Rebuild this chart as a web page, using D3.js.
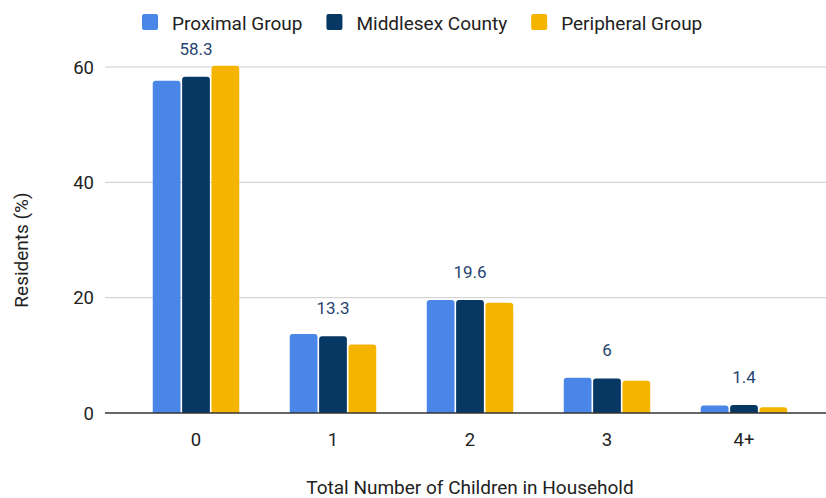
<!DOCTYPE html>
<html>
<head>
<meta charset="utf-8">
<script src="https://cdn.jsdelivr.net/npm/d3@7"></script>
<style>
  html, body { margin: 0; padding: 0; background: #fff; }
  svg { display: block; font-family: Roboto, "Noto Sans", sans-serif; }
</style>
</head>
<body>
<svg id="chart" width="826" height="498"></svg>
<script>
// Share of residents by number of children in the household
const categories = ["0", "1", "2", "3", "4+"];
const seriesNames = ["Proximal Group", "Middlesex County", "Peripheral Group"];
const proximal = [57.6, 13.7, 19.6, 6.1, 1.3];
const middlesex = [58.3, 13.3, 19.6, 6, 1.4];
const peripheral = [60.2, 11.9, 19.1, 5.6, 1.0];
const yTicks = [0, 20, 40, 60];
const colors = ["#4a86e8", "#073763", "#f4b400"];

const seriesValues = [proximal, middlesex, peripheral];
const rows = categories.map((c, i) => ({
  cat: c,
  vals: seriesValues.map((s, j) => ({ key: seriesNames[j], value: s[i], idx: j }))
}));

const svg = d3.select("#chart");
const plotLeft = 105, plotRight = 826, plotTop = 67, plotBottom = 413;

const x = d3.scaleBand().domain(categories).range([127.5, 812.5]).paddingInner(0).paddingOuter(0);
const x1 = d3.scaleBand().domain(seriesNames).range([0, x.bandwidth()]).paddingInner(0.055).paddingOuter(0.86);
const y = d3.scaleLinear().domain([0, 60]).range([plotBottom, plotTop]);

// gridlines
svg.append("g")
  .selectAll("line")
  .data(yTicks.filter(t => t !== 0))
  .join("line")
  .attr("x1", plotLeft).attr("x2", plotRight)
  .attr("y1", d => y(d)).attr("y2", d => y(d))
  .attr("stroke", "#cccccc").attr("stroke-width", 1);

// y tick labels
const yAxis = d3.axisLeft(y).tickValues(yTicks).tickSize(0).tickPadding(0);
const yg = svg.append("g").attr("transform", `translate(94,0)`).call(yAxis);
yg.select(".domain").remove();
yg.selectAll("text").attr("font-size", 18.5).attr("fill", "#222").attr("font-family", "Roboto, sans-serif").attr("dy", "0.34em");

// bars with rounded tops
function barPath(x0, w, yTop, yBase, r) {
  const h = yBase - yTop;
  r = Math.min(r, h / 2, w / 2);
  return `M${x0},${yBase}V${yTop + r}Q${x0},${yTop} ${x0 + r},${yTop}H${x0 + w - r}Q${x0 + w},${yTop} ${x0 + w},${yTop + r}V${yBase}Z`;
}

const groups = svg.append("g").selectAll("g")
  .data(rows).join("g")
  .attr("transform", d => `translate(${x(d.cat)},0)`);

groups.selectAll("path")
  .data(d => d.vals)
  .join("path")
  .attr("d", d => barPath(x1(d.key), x1.bandwidth(), y(d.value), y(0), 3))
  .attr("fill", d => colors[d.idx]);

// value labels for the county series
groups.append("text")
  .attr("x", x.bandwidth() / 2)
  .attr("y", d => y(d.vals[1].value) - 22)
  .attr("text-anchor", "middle")
  .attr("font-size", 17)
  .attr("fill", "#1f4470")
  .text(d => d.vals[1].value);

// baseline
svg.append("line")
  .attr("x1", plotLeft).attr("x2", plotRight)
  .attr("y1", y(0)).attr("y2", y(0))
  .attr("stroke", "#333").attr("stroke-width", 1.5);

// x axis labels
const xAxis = d3.axisBottom(x).tickSize(0).tickPadding(0);
const xg = svg.append("g").attr("transform", `translate(0,${y(0) + 33})`).call(xAxis);
xg.select(".domain").remove();
xg.selectAll("text").attr("font-size", 18.5).attr("fill", "#222").attr("font-family", "Roboto, sans-serif").attr("dy", 0);

// axis titles
svg.append("text")
  .attr("x", 470).attr("y", 494)
  .attr("text-anchor", "middle")
  .attr("font-size", 19).attr("fill", "#222")
  .text("Total Number of Children in Household");

svg.append("text")
  .attr("transform", "translate(28,250) rotate(-90)")
  .attr("text-anchor", "middle")
  .attr("font-size", 19).attr("fill", "#222")
  .text("Residents (%)");

// legend
const legend = svg.append("g");
let lx = 142;
seriesNames.forEach((name, i) => {
  legend.append("rect")
    .attr("x", lx).attr("y", 14).attr("width", 16).attr("height", 16)
    .attr("rx", 2).attr("fill", colors[i]);
  const t = legend.append("text")
    .attr("x", lx + 30).attr("y", 30)
    .attr("font-size", 19).attr("fill", "#222")
    .text(name);
  lx += 30 + t.node().getComputedTextLength() + 24;
});
</script>
</body>
</html>
